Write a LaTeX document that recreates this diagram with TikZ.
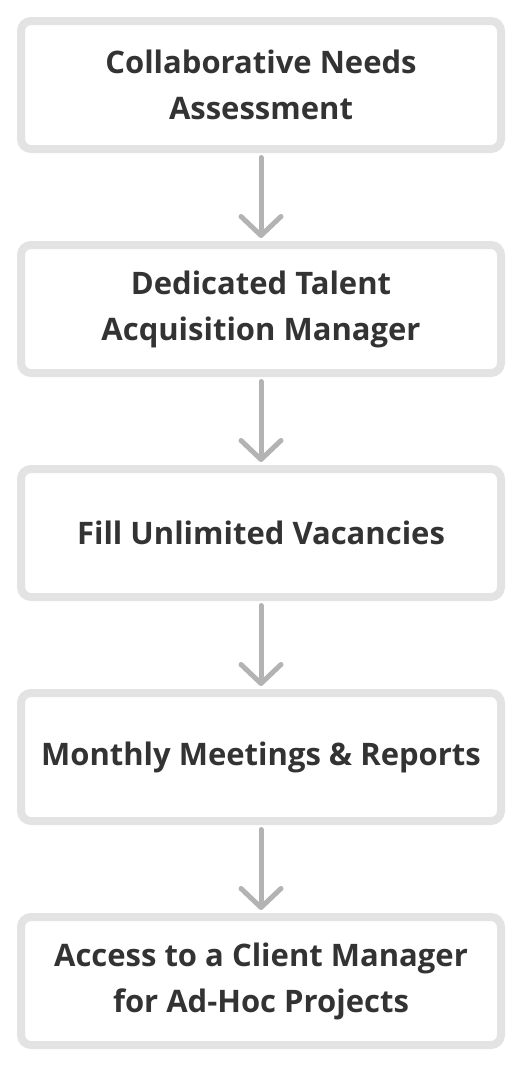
\documentclass[tikz,border=0pt]{standalone}
\usepackage{fontspec}
\setmainfont{Open Sans}
\usetikzlibrary{positioning,arrows.meta}
\definecolor{boxline}{HTML}{E3E3E3}
\definecolor{arrowgray}{HTML}{B3B3B3}
\definecolor{textdark}{HTML}{333333}
\begin{document}
\begin{tikzpicture}[
        x=1pt, y=1pt,
        node distance=88pt,
        box/.style={rectangle, draw=boxline, line width=8pt, rounded corners=10pt, minimum width=480pt, minimum height=128pt, align=center, text=textdark, font=\fontsize{31}{46}\selectfont\bfseries},
        arrow/.style={-{Straight Barb[length=19pt, width=40pt, line cap=round, line join=round]}, line width=5pt, line cap=round, draw=arrowgray, shorten <=4.5pt, shorten >=3pt}
    ]
    \useasboundingbox (0,0) rectangle (522,-1068);

    % Steps
    \node[box] (needs) at (261,-85) {Collaborative Needs\\Assessment};
    \node[box, below=of needs] (manager) {Dedicated Talent\\Acquisition Manager};
    \node[box, below=of manager] (vacancies) {Fill Unlimited Vacancies};
    \node[box, below=of vacancies] (meetings) {Monthly Meetings \& Reports};
    \node[box, below=of meetings] (client) {Access to a Client Manager\\for Ad-Hoc Projects};

    % Flow
    \draw[arrow] (needs) -- (manager);
    \draw[arrow] (manager) -- (vacancies);
    \draw[arrow] (vacancies) -- (meetings);
    \draw[arrow] (meetings) -- (client);

\end{tikzpicture}
\end{document}
